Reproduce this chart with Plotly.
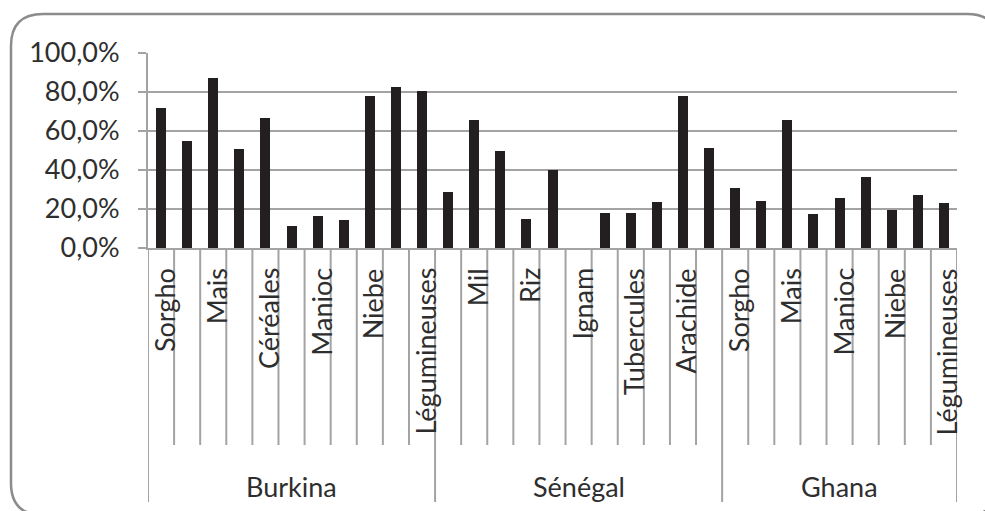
import plotly.graph_objects as go

# Share of households by crop, per country (fraction of 1)
groups = ["Burkina", "Sénégal", "Ghana"]

burkina_labels = ["Sorgho", "", "Mais", "", "Céréales", "", "Manioc", "", "Niebe", "", "Légumineuses"]
burkina_values = [0.718, 0.547, 0.872, 0.509, 0.667, 0.113, 0.165, 0.144, 0.777, 0.828, 0.806]

senegal_labels = ["", "Mil", "", "Riz", "", "Ignam", "", "Tubercules", "", "Arachide", ""]
senegal_values = [0.285, 0.658, 0.495, 0.149, 0.400, 0.0, 0.177, 0.177, 0.236, 0.777, 0.513]

ghana_labels = ["Sorgho", "", "Mais", "", "Manioc", "", "Niebe", "", "Légumineuses"]
ghana_values = [0.308, 0.241, 0.656, 0.174, 0.254, 0.366, 0.196, 0.270, 0.232]

y_ticks = [0, 0.2, 0.4, 0.6, 0.8, 1.0]

labels = burkina_labels + senegal_labels + ghana_labels
values = burkina_values + senegal_values + ghana_values
sizes = [len(burkina_values), len(senegal_values), len(ghana_values)]
xs = list(range(len(values)))

W, H = 985, 511
ML, MR, MT, MB = 148, 28, 53, 263
PW, PH = W - ML - MR, H - MT - MB

FONT = "Lato"
FS = 27
GRID = "#a3a3a3"
TXT = "#2e2e2e"


def px_x(px):
    return (px - ML) / PW


def px_y(py):
    return (H - MB - py) / PH


fig = go.Figure()
fig.add_trace(go.Bar(
    x=xs, y=values, width=0.383,
    marker=dict(color="#231f20", line=dict(width=0)),
    showlegend=False, hoverinfo="skip",
))

shapes = []
annotations = []

# group boundaries (long separators)
bounds = [-0.5]
for s in sizes:
    bounds.append(bounds[-1] + s)
for b in bounds:
    shapes.append(dict(type="line", xref="x", yref="paper", x0=b, x1=b,
                       y0=0, y1=px_y(502), line=dict(color=GRID, width=2)))

# category separators (short)
for k in range(1, len(values)):
    b = k - 0.5
    if b in bounds:
        continue
    shapes.append(dict(type="line", xref="x", yref="paper", x0=b, x1=b,
                       y0=0, y1=px_y(445), line=dict(color=GRID, width=2)))

# category labels, rotated
for x, lab in zip(xs, labels):
    if lab:
        annotations.append(dict(
            x=x, y=px_y(266), xref="x", yref="paper", text=lab, showarrow=False,
            textangle=-90, xanchor="center", yanchor="top", xshift=3,
            font=dict(family=FONT, size=FS, color=TXT),
        ))

# country labels
for g, a, b in zip(groups, bounds[:-1], bounds[1:]):
    annotations.append(dict(
        x=(a + b) / 2, y=px_y(486), xref="x", yref="paper", text=g, showarrow=False,
        xanchor="center", yanchor="middle",
        font=dict(family=FONT, size=FS, color=TXT),
    ))

# rounded outer frame
L, T, R, B, rad = px_x(11), px_y(14), px_x(999), px_y(515), 32
rx, ry = rad / PW, rad / PH
path = (
    f"M {L + rx},{T} L {R - rx},{T} Q {R},{T} {R},{T - ry} "
    f"L {R},{B + ry} Q {R},{B} {R - rx},{B} "
    f"L {L + rx},{B} Q {L},{B} {L},{B + ry} "
    f"L {L},{T - ry} Q {L},{T} {L + rx},{T} Z"
)
shapes.append(dict(type="path", xref="paper", yref="paper", path=path,
                   line=dict(color="#8c8c8c", width=2.5)))

fig.update_layout(
    width=W, height=H,
    margin=dict(l=ML, r=MR, t=MT, b=MB, pad=0),
    paper_bgcolor="white", plot_bgcolor="white",
    separators=", ",
    bargap=0,
    shapes=shapes, annotations=annotations,
    xaxis=dict(range=[-0.5, len(values) - 0.5], showticklabels=False, ticks="",
               showgrid=False, zeroline=False, showline=True,
               linecolor=GRID, linewidth=2, fixedrange=True),
    yaxis=dict(range=[0, 1.0], tickvals=y_ticks, tickformat=".1%",
               ticks="outside", ticklen=8, tickwidth=2, tickcolor=GRID,
               ticklabelstandoff=13,
               showgrid=True, gridcolor=GRID, gridwidth=2, zeroline=False,
               showline=True, linecolor=GRID, linewidth=2,
               tickfont=dict(family=FONT, size=FS, color=TXT), fixedrange=True),
)

fig.write_html("out.html")
